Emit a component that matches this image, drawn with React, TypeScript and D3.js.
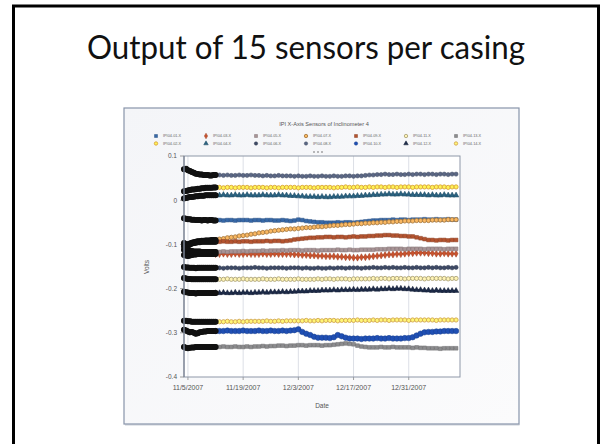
import * as d3 from 'd3';

// slide + embedded chart (IPI x-axis sensors, inclinometer 4)
const SLIDE_TITLE = 'Output of 15 sensors per casing';
const CHART_TITLE = 'IPI X-Axis Sensors of Inclinometer 4';

const X_TICKS = ['11/5/2007', '11/19/2007', '12/3/2007', '12/17/2007', '12/31/2007'];
const Y_TICKS = [0.1, 0, -0.1, -0.2, -0.3, -0.4];

// values in millivolts; early = 12h samples 11/4..11/12, late = daily 11/12..1/12
const s01Early = [-41, -42, -43, -43, -44, -44, -45, -45, -45, -46, -45, -45, -46, -45, -45, -46, -46];
const s01Late = [-45, -45, -46, -45, -45, -46, -45, -45, -45, -46, -45, -45, -46, -45, -45, -46, -46, -45, -46, -47,
  -46, -44, -45, -47, -48, -49, -50, -50, -51, -51, -51, -50, -51, -50, -50, -51, -50, -49, -48, -47,
  -46, -46, -45, -45, -45, -44, -45, -44, -44, -45, -44, -44, -44, -43, -44, -44, -43, -44, -44, -43, -44, -44];

const s02Early = [20, 21, 22, 23, 24, 24, 25, 26, 26, 27, 27, 28, 28, 28, 28, 29, 29];
const s02Late = [29, 29, 28, 29, 29, 28, 29, 29, 29, 28, 29, 29, 29, 28, 29, 29, 28, 29, 29, 29,
  29, 28, 29, 29, 29, 28, 29, 29, 29, 29, 28, 29, 29, 30, 29, 29, 30, 29, 29, 30,
  29, 30, 30, 29, 30, 30, 29, 30, 30, 30, 29, 30, 30, 30, 30, 29, 30, 30, 30, 29, 30, 30];

const s03Early = [-124, -125, -126, -125, -124, -123, -123, -122, -122, -122, -122, -122, -122, -122, -122, -122, -122];
const s03Late = [-122, -122, -121, -122, -122, -121, -122, -122, -121, -122, -122, -122, -121, -122, -122, -121, -122, -122, -122, -122,
  -123, -123, -124, -124, -125, -125, -126, -126, -127, -127, -127, -128, -128, -129, -129, -130, -130, -129, -129, -128,
  -127, -126, -125, -124, -123, -123, -122, -122, -121, -120, -120, -119, -119, -119, -120, -120, -121, -121, -120, -121, -121, -121];

const s04Early = [4, 5, 6, 7, 7, 8, 9, 9, 10, 10, 10, 11, 11, 11, 11, 11, 11];
const s04Late = [11, 11, 12, 11, 11, 12, 11, 11, 12, 11, 11, 11, 12, 11, 11, 11, 12, 11, 11, 10,
  10, 9, 9, 8, 8, 8, 7, 8, 7, 7, 8, 8, 8, 9, 9, 9, 10, 10, 11, 11,
  12, 12, 13, 13, 14, 13, 13, 14, 13, 13, 12, 12, 12, 12, 11, 12, 11, 11, 12, 11, 11, 11];

const s05Early = [-112, -113, -114, -115, -115, -116, -116, -116, -116, -117, -117, -117, -117, -117, -117, -117, -117];
const s05Late = [-117, -117, -116, -117, -116, -116, -116, -115, -116, -115, -115, -115, -114, -115, -114, -114, -114, -113, -114, -113,
  -113, -113, -114, -113, -113, -113, -114, -113, -113, -113, -113, -112, -113, -113, -112, -113, -113, -112, -112, -112,
  -112, -111, -111, -111, -110, -110, -110, -110, -111, -110, -110, -110, -110, -111, -110, -110, -110, -110, -111, -110, -110, -110];

const s06Early = [-151, -152, -152, -153, -153, -153, -154, -153, -153, -153, -153, -153, -153, -153, -153, -153, -153];
const s06Late = [-153, -153, -154, -153, -153, -153, -154, -153, -153, -153, -152, -153, -153, -154, -153, -153, -153, -153, -154, -153,
  -153, -153, -154, -153, -154, -154, -153, -154, -154, -153, -154, -153, -153, -154, -153, -153, -153, -154, -153, -153,
  -152, -153, -153, -152, -153, -152, -153, -153, -152, -153, -153, -152, -153, -153, -152, -153, -152, -153, -153, -152, -153, -152];

const s07Early = [-97, -99, -100, -98, -96, -95, -94, -93, -93, -92, -92, -91, -91, -91, -90, -90, -90];
const s07Late = [-90, -88, -87, -85, -84, -83, -81, -80, -79, -77, -76, -74, -73, -72, -70, -69, -68, -67, -66, -65,
  -65, -64, -63, -62, -62, -61, -60, -60, -59, -58, -57, -57, -56, -55, -55, -54, -53, -53, -52, -52,
  -51, -51, -50, -50, -49, -49, -48, -48, -47, -47, -47, -46, -46, -46, -46, -45, -45, -45, -45, -44, -44, -44];

const s08Early = [70, 71, 68, 66, 64, 62, 60, 59, 58, 58, 57, 57, 57, 56, 56, 57, 57];
const s08Late = [57, 57, 56, 57, 56, 56, 57, 56, 56, 57, 56, 56, 55, 56, 55, 55, 56, 55, 55, 55,
  54, 55, 54, 54, 55, 54, 54, 55, 54, 54, 55, 54, 54, 55, 55, 54, 55, 55, 56, 57,
  57, 58, 58, 59, 58, 58, 59, 58, 58, 59, 58, 59, 59, 58, 59, 59, 58, 59, 59, 58, 59, 59];

const s09Early = [-104, -106, -103, -100, -98, -97, -96, -95, -95, -94, -94, -94, -94, -94, -94, -94, -94];
const s09Late = [-94, -94, -93, -94, -94, -93, -94, -93, -93, -94, -93, -93, -93, -92, -93, -92, -92, -93, -92, -91,
  -89, -88, -87, -86, -85, -85, -84, -84, -83, -83, -84, -83, -83, -84, -83, -82, -83, -82, -82, -81,
  -81, -80, -80, -79, -79, -80, -80, -81, -81, -82, -82, -84, -86, -88, -90, -90, -91, -90, -90, -91, -90, -90];

const s10Early = [-293, -295, -297, -299, -298, -300, -302, -301, -299, -298, -297, -297, -296, -296, -296, -296, -296];
const s10Late = [-296, -296, -296, -295, -296, -296, -296, -295, -296, -296, -296, -295, -296, -296, -295, -296, -296, -295, -296, -295,
  -294, -292, -298, -302, -305, -309, -311, -311, -311, -312, -310, -305, -308, -311, -313, -313, -313, -314, -313, -313,
  -313, -312, -313, -313, -312, -313, -313, -313, -312, -312, -310, -306, -302, -299, -298, -298, -297, -297, -296, -296, -296, -296];

const s11Early = [-176, -177, -178, -178, -179, -179, -179, -179, -179, -179, -179, -179, -179, -179, -179, -179, -179];
const s11Late = [-179, -179, -179, -178, -179, -179, -179, -178, -179, -179, -179, -179, -178, -179, -179, -179, -178, -179, -179, -179,
  -179, -178, -179, -179, -179, -179, -178, -179, -178, -178, -179, -178, -178, -178, -179, -178, -178, -178, -178, -178,
  -177, -178, -177, -177, -178, -177, -177, -177, -178, -177, -177, -177, -177, -178, -177, -177, -177, -177, -177, -178, -177, -177];

const s12Early = [-207, -208, -209, -210, -210, -210, -211, -210, -210, -210, -210, -210, -210, -210, -210, -210, -210];
const s12Late = [-210, -210, -209, -210, -210, -209, -210, -209, -209, -210, -209, -209, -208, -209, -208, -208, -208, -207, -208, -207,
  -207, -206, -206, -206, -205, -205, -205, -204, -204, -204, -203, -204, -203, -203, -203, -202, -203, -202, -202, -202,
  -201, -202, -201, -201, -200, -201, -200, -200, -201, -201, -202, -203, -203, -204, -204, -205, -204, -205, -205, -205, -205, -205];

const s13Early = [-332, -334, -335, -334, -333, -333, -332, -332, -332, -332, -332, -332, -332, -332, -332, -332, -332];
const s13Late = [-332, -332, -331, -332, -332, -331, -332, -332, -331, -332, -331, -331, -330, -331, -330, -330, -329, -329, -330, -329,
  -329, -328, -328, -329, -328, -328, -328, -329, -328, -328, -327, -326, -325, -324, -325, -326, -329, -331, -332, -333,
  -333, -333, -332, -333, -333, -332, -333, -333, -333, -333, -334, -333, -334, -334, -335, -335, -335, -336, -335, -335, -335, -335];

const s14Early = [-273, -273, -274, -274, -275, -275, -275, -275, -275, -275, -275, -275, -275, -275, -275, -275, -275];
const s14Late = [-275, -275, -275, -274, -275, -275, -274, -275, -274, -274, -274, -274, -274, -273, -274, -274, -273, -274, -273, -273,
  -273, -273, -273, -272, -273, -273, -272, -273, -272, -272, -272, -273, -272, -272, -272, -272, -271, -272, -272, -272,
  -271, -272, -271, -271, -272, -271, -271, -271, -271, -272, -271, -271, -271, -271, -271, -271, -272, -271, -271, -271, -271, -271];

const SENSOR_NAMES = ['IPI04-01-X', 'IPI04-02-X', 'IPI04-03-X', 'IPI04-04-X', 'IPI04-05-X', 'IPI04-06-X', 'IPI04-07-X',
  'IPI04-08-X', 'IPI04-09-X', 'IPI04-10-X', 'IPI04-11-X', 'IPI04-12-X', 'IPI04-13-X', 'IPI04-14-X'];
const SENSOR_COLORS = ['#3668a8', '#d9a43a', '#c9532e', '#2a6280', '#a89496', '#3e4a66', '#a97c42',
  '#5b6784', '#b4532f', '#1f4fb4', '#aea57a', '#1d2b48', '#8c8c8e', '#d2a650'];
const SENSOR_SHAPES = ['square', 'ring', 'diamond', 'triangle', 'square', 'circle', 'ring',
  'circle', 'square', 'circle', 'ring', 'triangle', 'square', 'ring'];
const EARLY = [s01Early, s02Early, s03Early, s04Early, s05Early, s06Early, s07Early,
  s08Early, s09Early, s10Early, s11Early, s12Early, s13Early, s14Early];
const LATE = [s01Late, s02Late, s03Late, s04Late, s05Late, s06Late, s07Late,
  s08Late, s09Late, s10Late, s11Late, s12Late, s13Late, s14Late];

const W = 602;
const H = 444;
const BOX = { x: 124, y: 108, w: 395, h: 316 };
const PLOT = { left: 184, right: 460, top: 156, bottom: 377 };
const CHART_FONT = '"Liberation Sans", Arial, sans-serif';

const earlyDates = d3.timeHour.every(12)!.range(new Date(2007, 10, 4), new Date(2007, 10, 12, 1));
const lateDates = d3.timeDay.range(new Date(2007, 10, 12), new Date(2008, 0, 13));
const parseTick = d3.timeParse('%m/%d/%Y');

const x = d3.scaleTime()
  .domain([new Date(2007, 10, 4), new Date(2008, 0, 13)])
  .range([PLOT.left, PLOT.right]);
const y = d3.scaleLinear().domain([-0.4, 0.1]).range([PLOT.bottom, PLOT.top]);

function symbolPath(shape: string, size: number) {
  const type = shape === 'square' ? d3.symbolSquare
    : shape === 'diamond' ? d3.symbolDiamond
      : shape === 'triangle' ? d3.symbolTriangle
        : d3.symbolCircle;
  return d3.symbol().type(type).size(size)() ?? '';
}

function Marker({ shape, color, size, tx, ty }: { shape: string; color: string; size: number; tx: number; ty: number }) {
  const dark = d3.color(color)!.darker(0.7).formatHex();
  const light = d3.color(color)!.brighter(1.1).formatHex();
  return (
    <path
      d={symbolPath(shape, size)}
      transform={`translate(${tx},${ty})`}
      fill={shape === 'ring' ? light : color}
      stroke={shape === 'ring' ? color : dark}
      strokeWidth={shape === 'ring' ? 0.9 : 0.5}
    />
  );
}

export default function App() {
  const line = d3.line<[Date, number]>()
    .x(d => x(d[0]))
    .y(d => y(d[1] / 1000));

  return (
    <svg width={W} height={H} style={{ position: 'absolute', left: 0, top: 0, background: '#fff' }}>
      {/* slide frame */}
      <rect x={13.5} y={6} width={585} height={460} fill="#fff" stroke="#000" strokeWidth={3} />
      <text x={87} y={59} fontFamily="Lato, 'Open Sans', sans-serif" fontSize={33.5} fill="#111"
        textLength={438} lengthAdjust="spacingAndGlyphs">
        {SLIDE_TITLE}
      </text>

      {/* chart picture */}
      <defs>
        <linearGradient id="boxbg" x1="0" y1="0" x2="1" y2="1">
          <stop offset="0" stopColor="#f4f5f8" />
          <stop offset="1" stopColor="#fbfbfc" />
        </linearGradient>
      </defs>
      <rect x={BOX.x} y={BOX.y} width={BOX.w} height={BOX.h} fill="url(#boxbg)" stroke="#8894aa" strokeWidth={1.2} />
      <line x1={BOX.x + 1} x2={BOX.x + BOX.w + 0.5} y1={BOX.y + BOX.h + 0.8} y2={BOX.y + BOX.h + 0.8} stroke="#a4adbd" strokeWidth={1} />

      <text x={324} y={126} textAnchor="middle" fontFamily={CHART_FONT} fontSize={5.6} fill="#555">{CHART_TITLE}</text>

      {/* legend, 7 columns x 2 rows */}
      {SENSOR_NAMES.map((name, i) => {
        const col = Math.floor(i / 2);
        const row = i % 2;
        const lx = 156 + col * 50;
        const ly = 136 + row * 7.5;
        return (
          <g key={name}>
            <Marker shape={SENSOR_SHAPES[i]} color={SENSOR_COLORS[i]} size={9} tx={lx} ty={ly} />
            <text x={lx + 7} y={ly + 1.4} fontFamily={CHART_FONT} fontSize={3.8} fill="#666">{name}</text>
          </g>
        );
      })}
      {[0, 1, 2].map(k => (
        <circle key={k} cx={314 + k * 4} cy={152} r={0.8} fill="#666" />
      ))}

      {/* plot area */}
      <rect x={PLOT.left} y={PLOT.top} width={PLOT.right - PLOT.left} height={PLOT.bottom - PLOT.top} fill="#fff" />
      {X_TICKS.map(t => {
        const px = x(parseTick(t)!);
        return (
          <g key={t}>
            <line x1={px} x2={px} y1={PLOT.top} y2={PLOT.bottom} stroke="#dcdfe6" strokeWidth={1} />
            <line x1={px} x2={px} y1={PLOT.bottom} y2={PLOT.bottom + 3} stroke="#888" strokeWidth={0.8} />
            <text x={px} y={390} textAnchor="middle" fontFamily={CHART_FONT} fontSize={7} fill="#555">{t}</text>
          </g>
        );
      })}
      {Y_TICKS.map(t => (
        <g key={t}>
          <line x1={PLOT.left - 4} x2={PLOT.left} y1={y(t)} y2={y(t)} stroke="#888" strokeWidth={0.8} />
          <text x={177} y={y(t) + 2.3} textAnchor="end" fontFamily={CHART_FONT} fontSize={6.5} fill="#555">{String(t)}</text>
        </g>
      ))}

      {/* later, colored series */}
      {LATE.map((vals, i) => {
        const pts: [Date, number][] = vals.slice(0, lateDates.length).map((v, j) => [lateDates[j], v]);
        const bold = SENSOR_NAMES[i] === 'IPI04-10-X';
        return (
          <g key={SENSOR_NAMES[i]}>
            <path d={line(pts) ?? ''} fill="none" stroke={SENSOR_COLORS[i]} strokeWidth={bold ? 3 : 1.4} />
            {pts.map((p, j) => (
              <Marker key={j} shape={SENSOR_SHAPES[i]} color={SENSOR_COLORS[i]} size={bold ? 24 : 14}
                tx={x(p[0])} ty={y(p[1] / 1000)} />
            ))}
          </g>
        );
      })}

      {/* first week of dense samples: black band */}
      {EARLY.map((vals, i) => {
        const pts: [Date, number][] = vals.slice(0, earlyDates.length).map((v, j) => [earlyDates[j], v]);
        return (
          <g key={`e${i}`}>
            <path d={line(pts) ?? ''} fill="none" stroke="#141414" strokeWidth={5.5} strokeLinecap="round" />
            {pts.map((p, j) => (
              <circle key={j} cx={x(p[0])} cy={y(p[1] / 1000)} r={3} fill="#111" />
            ))}
          </g>
        );
      })}

      {/* frame + axes */}
      <rect x={PLOT.left} y={PLOT.top} width={PLOT.right - PLOT.left} height={PLOT.bottom - PLOT.top}
        fill="none" stroke="#8e97a8" strokeWidth={1} />
      <line x1={PLOT.left} x2={PLOT.left} y1={PLOT.top} y2={PLOT.bottom} stroke="#6f7787" strokeWidth={1} />

      <text x={322} y={408} textAnchor="middle" fontFamily={CHART_FONT} fontSize={6.5} fill="#555">Date</text>
      <text transform="translate(149,267) rotate(-90)" textAnchor="middle" fontFamily={CHART_FONT} fontSize={6.5} fill="#555">Volts</text>
    </svg>
  );
}
